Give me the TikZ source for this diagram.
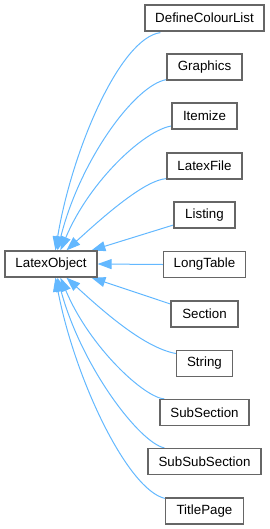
\documentclass[tikz,border=0pt]{standalone}
\usepackage{fontspec}
\setmainfont{Liberation Sans}
\usetikzlibrary{arrows.meta,calc,backgrounds}
\definecolor{edgeblue}{HTML}{63B8FF}
\definecolor{boxgray}{HTML}{666666}
\begin{document}
\begin{tikzpicture}[x=0.75pt,y=-0.75pt,
  cls/.style={draw=boxgray,line width=0.9pt,fill=white,minimum height=26*0.75pt,
    inner sep=0pt,font=\fontsize{10}{12}\selectfont},
  edge/.style={draw=edgeblue,line width=0.75pt,{Triangle[length=10.5pt,width=7.5pt]}-}]
\useasboundingbox (0,0) rectangle (269,529);
\node[cls,minimum width=92*0.75pt] (lo) at (51,264) {LatexObject};
\node[cls,minimum width=119*0.75pt] (dcl) at (204.5,18) {DefineColourList};
\node[cls,minimum width=75*0.75pt] (gr) at (204.5,67) {Graphics};
\node[cls,minimum width=65*0.75pt] (it) at (204.5,116) {Itemize};
\node[cls,minimum width=75*0.75pt] (lf) at (204.5,166) {LatexFile};
\node[cls,minimum width=61*0.75pt] (li) at (204.5,215) {Listing};
\node[cls,minimum width=82*0.75pt] (lt) at (204.5,264.5) {LongTable};
\node[cls,minimum width=67*0.75pt] (se) at (204.5,314) {Section};
\node[cls,minimum width=56*0.75pt] (st) at (204.5,363.5) {String};
\node[cls,minimum width=89*0.75pt] (ss) at (204.5,412.5) {SubSection};
\node[cls,minimum width=113*0.75pt] (sss) at (204.5,461.5) {SubSubSection};
\node[cls,minimum width=78*0.75pt] (tp) at (204.5,511) {TitlePage};
\begin{pgfonlayer}{background}
% upper edges
\draw[edge] ($(lo.north west)+(51,0)$) .. controls (72,150) and (120,38) .. ($(dcl.south west)+(16,1)$);
\draw[edge] ($(lo.north west)+(53,0)$) .. controls (80,160) and (135,85) .. ($(gr.south west)+(0,-1)$);
\draw[edge] ($(lo.north west)+(56,0)$) .. controls (90,180) and (145,130) .. ($(it.west)+(0,10)$);
\draw[edge] ($(lo.north west)+(62,0)$) .. controls (105,215) and (145,180) .. ($(lf.south west)+(0,-1)$);
\draw[edge] ($(lo.north west)+(87,0)$) -- ($(li.west)+(0,10)$);
\draw[edge] (lo.east) -- (lt.west);
% lower edges
\draw[edge] ($(lo.south west)+(87,0)$) -- ($(se.west)+(0,-10)$);
\draw[edge] ($(lo.south west)+(62,0)$) .. controls (105,313) and (145,348) .. ($(st.west)+(0,-10)$);
\draw[edge] ($(lo.south west)+(56,0)$) .. controls (90,348) and (145,398) .. ($(ss.north west)+(5,0)$);
\draw[edge] ($(lo.south west)+(53,0)$) .. controls (82,368) and (140,443) .. ($(sss.north west)+(17,0)$);
\draw[edge] ($(lo.south west)+(51,0)$) .. controls (75,380) and (128,490) .. ($(tp.north west)+(0,1)$);
\end{pgfonlayer}
\end{tikzpicture}
\end{document}
